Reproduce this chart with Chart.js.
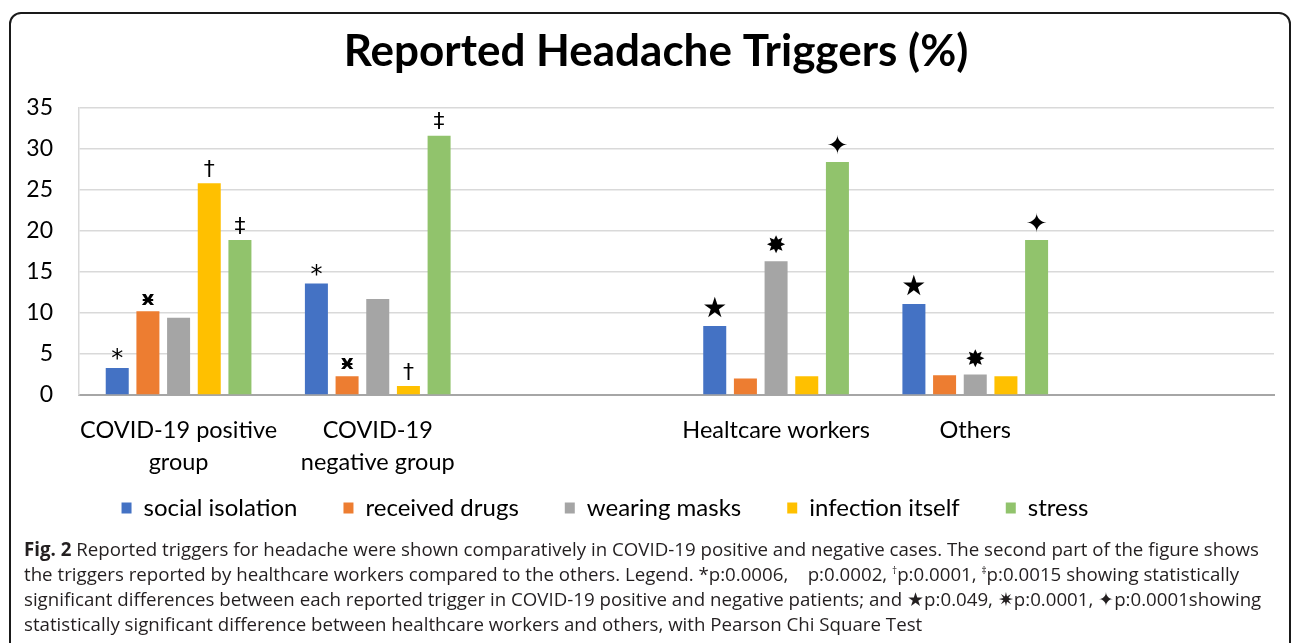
<!DOCTYPE html>
<html>
<head>
<meta charset="utf-8">
<script src="https://cdn.jsdelivr.net/npm/chart.js@4"></script>
<style>
  html, body { margin: 0; padding: 0; background: #fff; }
  body { width: 1292px; height: 643px; position: relative; overflow: hidden; }
  #frame {
    position: absolute; left: 9px; top: 12px; width: 1282px; height: 700px;
    border: 2px solid #1a1a1a; border-radius: 12px 12px 0 0; box-sizing: border-box;
  }
  #wrap { position: absolute; left: 0; top: 0; width: 1292px; height: 560px; }
  #caption {
    position: absolute; left: 24px; top: 536px; width: 1262px;
    font-family: "Open Sans", sans-serif; font-size: 18.7px; line-height: 25px;
    color: #231f20; white-space: nowrap;
  }
  #caption b { font-weight: 700; }
  #caption sup { font-size: 10px; line-height: 0; vertical-align: 7px; }
</style>
</head>
<body>
<div id="frame"></div>
<div id="wrap"><canvas id="chart"></canvas></div>
<div id="caption">
  <b>Fig. 2</b> Reported triggers for headache were shown comparatively in COVID-19 positive and negative cases. The second part of the figure shows<br>
  the triggers reported by healthcare workers compared to the others. Legend. *p:0.0006, &nbsp;&nbsp;&nbsp;p:0.0002, <sup>†</sup>p:0.0001, <sup>‡</sup>p:0.0015 showing statistically<br>
  significant differences between each reported trigger in COVID-19 positive and negative patients; and ★p:0.049, ✷p:0.0001, ✦p:0.0001showing<br>
  statistically significant difference between healthcare workers and others, with Pearson Chi Square Test
</div>
<script>
// ===========================
// DATA
// ===========================

const groups = [
  ["COVID-19 positive", "group"],
  ["COVID-19", "negative group"],
  "",
  "Healtcare workers",
  "Others",
  ""
];

const seriesNames = ["social isolation", "received drugs", "wearing masks", "infection itself", "stress"];
const seriesColors = ["#4472C4", "#ED7D31", "#A5A5A5", "#FFC000", "#91C36C"];

const socialIsolation = [3.3, 13.6, null, 8.4, 11.1, null];
const receivedDrugs   = [10.2, 2.3, null, 2.0, 2.4, null];
const wearingMasks    = [9.4, 11.7, null, 16.3, 2.5, null];
const infectionItself = [25.8, 1.1, null, 2.3, 2.3, null];
const stress          = [18.9, 31.6, null, 28.4, 18.9, null];

// significance marks drawn above bars
const socialMarks    = ["*", "*", "", "★", "★", ""];
const drugMarks      = ["ӿ", "ӿ", "", "", "", ""];
const maskMarks      = ["", "", "", "✸", "✸", ""];
const infectionMarks = ["†", "†", "", "", "", ""];
const stressMarks    = ["‡", "‡", "", "✦", "✦", ""];

const yTicks = [0, 5, 10, 15, 20, 25, 30, 35];

// ===========================
// BUILD CHART
// ===========================

const allSeries = [socialIsolation, receivedDrugs, wearingMasks, infectionItself, stress];
const allMarks = [socialMarks, drugMarks, maskMarks, infectionMarks, stressMarks];

const markFont = {
  "*": "24px 'DejaVu Sans'",
  "ӿ": "bold 20px 'DejaVu Sans'",
  "†": "22px 'DejaVu Sans'",
  "‡": "22px 'DejaVu Sans'",
  "★": "28px 'DejaVu Sans'",
  "✸": "24px 'DejaVu Sans'",
  "✦": "26px 'DejaVu Sans'"
};

const marksPlugin = {
  id: "marks",
  afterDatasetsDraw(chart) {
    const ctx = chart.ctx;
    ctx.save();
    ctx.fillStyle = "#000";
    ctx.textAlign = "center";
    ctx.textBaseline = "bottom";
    chart.data.datasets.forEach((ds, i) => {
      const meta = chart.getDatasetMeta(i);
      meta.data.forEach((bar, j) => {
        const s = allMarks[i][j];
        if (!s) return;
        ctx.font = markFont[s];
        let off = 2;
        if (s === "*") off = -4;
        ctx.fillText(s, bar.x, bar.y - off);
      });
    });
    ctx.restore();
  }
};

// nudge title and legend boxes to where the original figure has them
const nudgePlugin = {
  id: "nudge",
  afterLayout(chart) {
    chart.titleBlock.left += 14;
    chart.titleBlock.right += 14;
    chart.legend.top -= 30;
    chart.legend.bottom -= 30;
    chart.legend.left -= 37;
    chart.legend.right -= 37;
  }
};

const datasets = seriesNames.map((name, i) => ({
  label: name,
  data: allSeries[i],
  backgroundColor: seriesColors[i],
  borderWidth: 0,
  categoryPercentage: 0.77,
  barPercentage: 0.75
}));

new Chart(document.getElementById("chart"), {
  type: "bar",
  data: { labels: groups, datasets: datasets },
  plugins: [marksPlugin, nudgePlugin],
  options: {
    responsive: true,
    maintainAspectRatio: false,
    animation: false,
    layout: { padding: { top: 25, left: 10, right: 18, bottom: 0 } },
    plugins: {
      title: {
        display: true,
        text: "Reported Headache Triggers (%)",
        color: "#000",
        font: { family: "Lato", size: 44, weight: "bold" },
        padding: { top: 0, bottom: 30 }
      },
      legend: {
        position: "bottom",
        labels: {
          color: "#000",
          font: { family: "Lato", size: 24 },
          boxWidth: 10,
          boxHeight: 11,
          padding: 46
        }
      },
      tooltip: { enabled: false }
    },
    scales: {
      x: {
        grid: { display: false, drawTicks: false },
        border: { color: "#a6a6a6", width: 2 },
        ticks: {
          color: "#000",
          font: { family: "Lato", size: 23.5, lineHeight: 1.36 },
          padding: 19,
          maxRotation: 0,
          autoSkip: false
        },
        afterFit(scale) { scale.height = 85; }
      },
      y: {
        min: 0,
        max: 35,
        afterBuildTicks(scale) { scale.ticks = yTicks.map((v) => ({ value: v })); },
        grid: { color: "#d9d9d9", lineWidth: 1.5, drawTicks: false },
        border: { display: true, color: "#d9d9d9", width: 1.5 },
        ticks: {
          color: "#000",
          font: { family: "Lato", size: 23 },
          padding: 26
        },
        afterFit(scale) { scale.width = 69; }
      }
    }
  }
});
</script>
</body>
</html>
